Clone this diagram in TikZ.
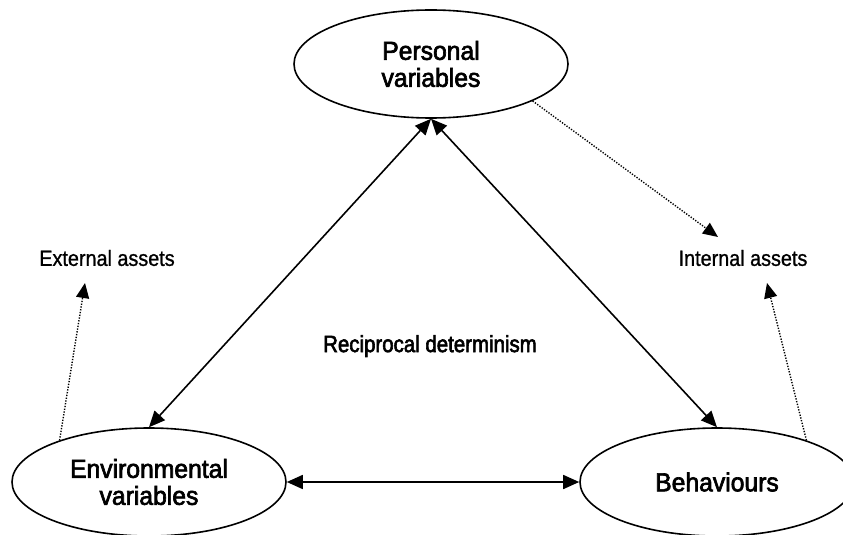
\documentclass[tikz,border=0pt]{standalone}
\usepackage{fontspec}
\setmainfont{Liberation Sans}
\newfontfamily\ovalfont[FakeStretch=0.95,FakeBold=2.5]{Liberation Sans}
\newfontfamily\lblfont[FakeStretch=0.9,FakeBold=1]{Liberation Sans}
\newfontfamily\rdfont[FakeStretch=0.87,FakeBold=2.5]{Liberation Sans}
\usetikzlibrary{arrows.meta,shapes.geometric}
\tikzset{
  oval/.style={draw, line width=1.6pt, ellipse, minimum width=274pt, minimum height=108pt, inner sep=0pt, align=center, font=\ovalfont\fontsize{26pt}{27pt}\selectfont},
  lbl/.style={inner sep=0pt, font=\lblfont\fontsize{22pt}{24pt}\selectfont},
  solidarr/.style={line width=1.6pt, {Triangle[length=16pt,width=14pt]}-{Triangle[length=16pt,width=14pt]}},
  dotarr/.style={line width=1.4pt, dash pattern=on 1.3pt off 1.5pt, -{Triangle[length=15pt,width=13pt]}},
}
\begin{document}
\begin{tikzpicture}[x=1pt,y=-1pt]
\useasboundingbox (0,0) rectangle (843,535);
\clip (0,0) rectangle (843,535);
\node[oval] (P) at (431,64) {Personal\\variables};
\node[oval] (E) at (149,482) {Environmental\\variables};
\node[oval] (B) at (717,482) {Behaviours};
\node[lbl] (ext) at (107,258) {External assets};
\node[lbl] (int) at (743,258) {Internal assets};
\node[lbl, font=\rdfont\fontsize{23.5pt}{24pt}\selectfont] (rd) at (430,346) {Reciprocal determinism};
\coordinate (extTip) at (85,283);
\coordinate (intTip1) at (718,237);
\coordinate (intTip2) at (767,283);
\draw[solidarr] (P.south) -- (E.north);
\draw[solidarr] (P.south) -- (B.north);
\draw[solidarr] (E.east) -- (B.west);
\draw[dotarr] (P.-20) -- (intTip1);
\draw[dotarr] (E.155) -- (extTip);
\draw[dotarr] (B.25) -- (intTip2);
\end{tikzpicture}
\end{document}
